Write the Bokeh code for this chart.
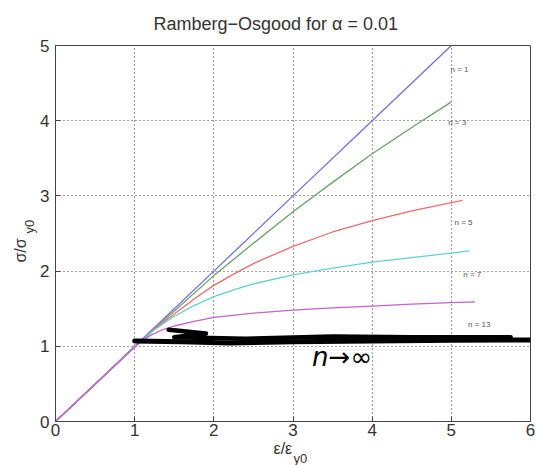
from bokeh.plotting import figure
from bokeh.models import Label, Range1d, FixedTicker, Title
from bokeh.embed import file_html
from bokeh.resources import INLINE

# ---- data (strain ratio, stress ratio) ----
n1_x = [0, 1, 2, 3, 4, 5]
n1_y = [0, 1, 2, 3, 4, 5]

n3_x = [0, 1.0, 1.5, 2.0, 2.5, 3.0, 3.5, 4.0, 4.5, 5.0]
n3_y = [0, 0.99, 1.47, 1.94, 2.37, 2.79, 3.18, 3.56, 3.91, 4.25]

n5_x = [0, 1.0, 1.25, 1.5, 1.75, 2.0, 2.25, 2.5, 3.0, 3.5, 4.0, 4.5, 5.0, 5.14]
n5_y = [0, 0.99, 1.23, 1.43, 1.63, 1.81, 1.96, 2.10, 2.33, 2.52, 2.67, 2.80, 2.91, 2.94]

n7_x = [0, 1.0, 1.25, 1.5, 1.75, 2.0, 2.25, 2.5, 3.0, 3.5, 4.0, 4.5, 5.0, 5.23]
n7_y = [0, 0.99, 1.22, 1.40, 1.54, 1.66, 1.75, 1.83, 1.95, 2.04, 2.12, 2.18, 2.24, 2.27]

n13_x = [0, 1.0, 1.1, 1.2, 1.35, 1.5, 1.75, 2.0, 2.5, 3.0, 3.5, 4.0, 4.5, 5.0, 5.3]
n13_y = [0, 0.99, 1.075, 1.145, 1.22, 1.27, 1.332, 1.385, 1.44, 1.48, 1.51, 1.535, 1.56, 1.58, 1.59]

curve_labels = ["n = 1", "n = 3", "n = 5", "n = 7", "n = 13"]
label_x = [4.99, 4.96, 5.04, 5.15, 5.21]
label_y = [4.68, 3.97, 2.64, 1.96, 1.29]

x_ticks = [0, 1, 2, 3, 4, 5, 6]
y_ticks = [0, 1, 2, 3, 4, 5]

# hand-drawn strokes on top of the chart
stroke_a_x = [1.0, 1.6, 2.2, 3.0, 4.0, 5.0, 6.0]
stroke_a_y = [1.07, 1.06, 1.045, 1.06, 1.07, 1.08, 1.085]
stroke_b_x = [1.43, 1.9, 1.5, 2.4, 3.5, 4.5, 5.75]
stroke_b_y = [1.22, 1.17, 1.12, 1.10, 1.13, 1.12, 1.12]

colors = ["#7070e2", "#6aa26a", "#ec6c6c", "#60d2d0", "#c862cc"]
series = [(n1_x, n1_y), (n3_x, n3_y), (n5_x, n5_y), (n7_x, n7_y), (n13_x, n13_y)]

FONT = "Liberation Sans"
TXT = "#333333"

p = figure(width=549, height=465, output_backend="svg", toolbar_location=None,
           x_range=Range1d(0, 6), y_range=Range1d(0, 5),
           min_border_left=55, min_border_right=19, min_border_top=45, min_border_bottom=44)

p.background_fill_color = "white"
p.border_fill_color = "white"
p.outline_line_color = "#444444"
p.outline_line_width = 1

for ax in (p.xaxis[0], p.yaxis[0]):
    ax.major_label_text_font = FONT
    ax.major_label_text_font_size = "17px"
    ax.major_label_text_color = TXT
    ax.major_tick_in = 5
    ax.major_tick_out = 0
    ax.minor_tick_line_color = None
    ax.axis_line_color = "#444444"
    ax.major_tick_line_color = "#444444"
p.xaxis[0].major_label_standoff = 2
p.yaxis[0].major_label_standoff = 6

p.xaxis[0].ticker = FixedTicker(ticks=x_ticks)
p.yaxis[0].ticker = FixedTicker(ticks=y_ticks)


def title(text, size, standoff, offset, valign="middle"):
    return Title(text=text, align="left", offset=offset, standoff=standoff,
                 vertical_align=valign, text_font=FONT, text_font_size=size,
                 text_font_style="normal", text_color=TXT)


# chart title
p.add_layout(title("Ramberg\u2212Osgood for \u03b1 = 0.01", "18px", 20, 98, "top"), "above")

# axis labels with subscripts (stacked titles in the side panels)
p.add_layout(title("\u03b5/\u03b5", "16px", 0, 218), "below")
p.add_layout(title("y0", "13px", -15, 238), "below")
p.add_layout(title("y0", "13px", -1, 188), "left")
p.add_layout(title("\u03c3/\u03c3", "16px", -16, 159), "left")

p.xgrid.ticker = FixedTicker(ticks=x_ticks)
p.ygrid.ticker = FixedTicker(ticks=y_ticks)
for g in (p.xgrid[0], p.ygrid[0]):
    g.grid_line_color = "#333333"
    g.grid_line_dash = "1 3"
    g.grid_line_width = 1.2
    g.grid_line_alpha = 0.9

for (xs, ys), c in zip(series, colors):
    p.line(xs, ys, line_color=c, line_width=1.3)

p.text(x=label_x, y=label_y, text=curve_labels, text_font_size="8px",
       text_color="#555555", text_baseline="middle", text_align="left")

# hand-drawn annotation
p.line(stroke_a_x, stroke_a_y, line_color="black", line_width=5, line_cap="round", line_join="round")
p.line(stroke_b_x, stroke_b_y, line_color="black", line_width=4.5, line_cap="round", line_join="round")
p.add_layout(Label(x=3.62, y=0.86, text="n\u2192\u221e", text_font="DejaVu Sans",
                   text_font_style="italic", text_font_size="26px", text_color="black",
                   text_align="center", text_baseline="middle"))

open("out.html", "w").write(file_html(p, INLINE))
